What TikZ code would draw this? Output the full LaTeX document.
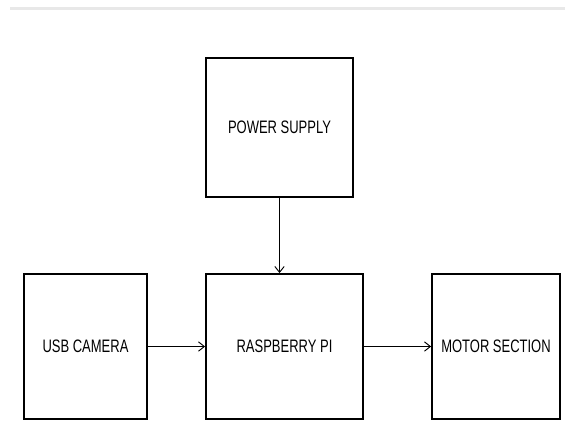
\documentclass[tikz,border=0pt]{standalone}
\usepackage{fontspec}
\setmainfont{Liberation Sans}
\usetikzlibrary{arrows.meta}

\tikzset{
  block/.style={draw, line width=1.6pt, font=\fontsize{15.4}{18}\selectfont},
  link/.style={line width=0.8pt, -{Straight Barb[length=5pt,width=8pt]}}
}
\newcommand{\narrow}[1]{\scalebox{0.72}[1]{#1}}

\begin{document}
\begin{tikzpicture}[x=0.03cm,y=-0.03cm]
\useasboundingbox (0,0) rectangle (565,421);
\draw[line width=2pt,gray!18] (10,8.5) -- (565,8.5);

\node[block,minimum width=147*0.03cm,minimum height=139*0.03cm] (power) at (279.5,127.5) {\narrow{POWER SUPPLY}};
\node[block,minimum width=123*0.03cm,minimum height=145*0.03cm] (cam) at (85.5,346.5) {\narrow{USB CAMERA}};
\node[block,minimum width=157*0.03cm,minimum height=145*0.03cm] (rpi) at (284.5,346.5) {\narrow{RASPBERRY PI}};
\node[block,minimum width=128*0.03cm,minimum height=145*0.03cm] (motor) at (496,346.5) {\narrow{MOTOR SECTION}};

\draw[link] (power.south) -- (power.south |- rpi.north);
\draw[link] (cam) -- (rpi);
\draw[link] (rpi) -- (motor);
\end{tikzpicture}
\end{document}
